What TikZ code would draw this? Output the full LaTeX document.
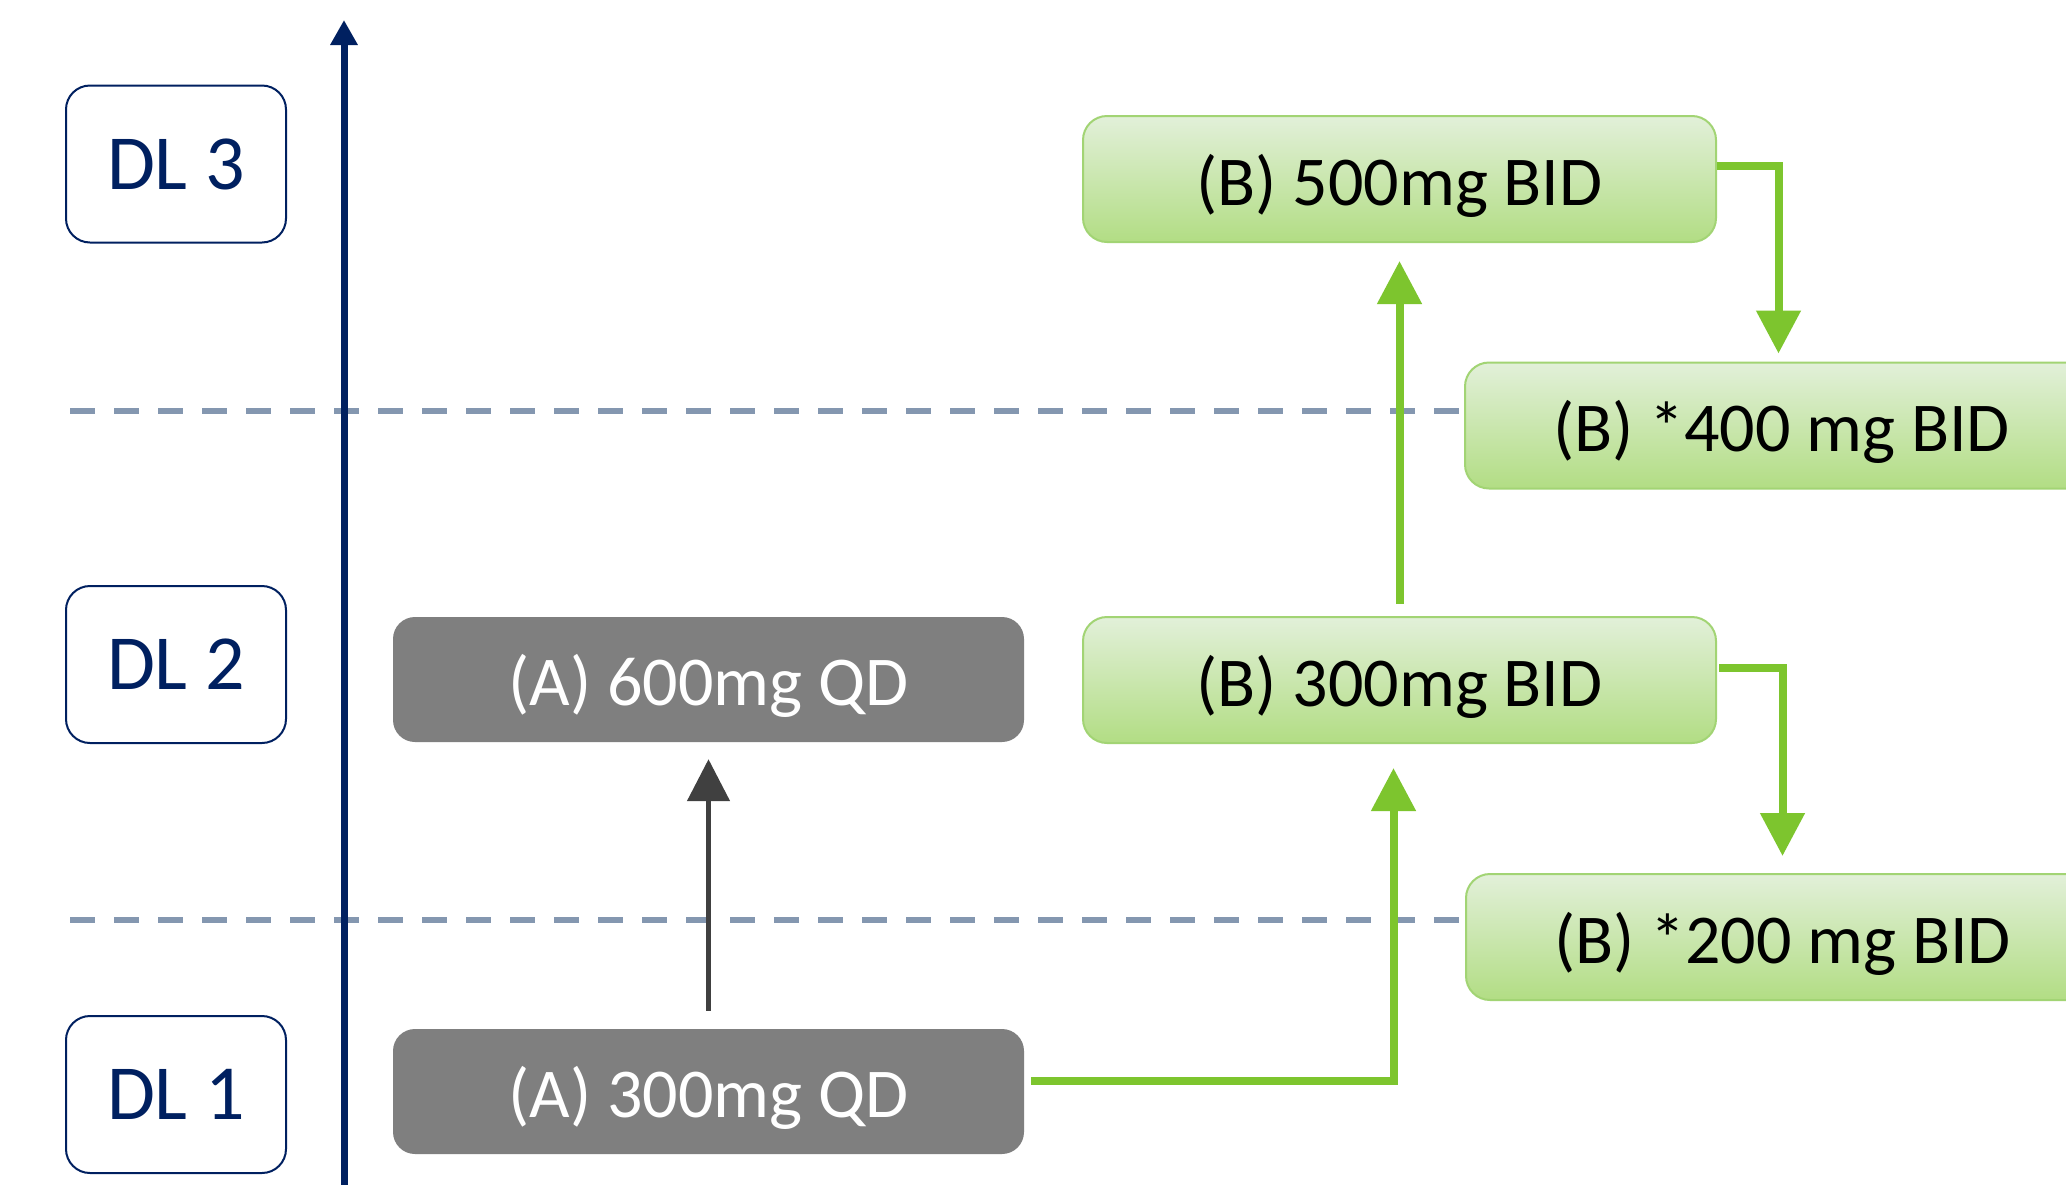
\documentclass[tikz,border=0pt]{standalone}
\usepackage{fontspec}
\setmainfont{Carlito}
\usetikzlibrary{arrows.meta}
\definecolor{navy}{HTML}{002060}
\definecolor{dashc}{HTML}{8497B0}
\definecolor{greenarrow}{HTML}{7DC52E}
\definecolor{greenborder}{HTML}{A2D474}
\definecolor{greentop}{HTML}{E2F0D9}
\definecolor{greenbot}{HTML}{B2DD84}
\definecolor{grayfill}{HTML}{7F7F7F}
\definecolor{grayarrow}{HTML}{404040}
\tikzset{
  dlbox/.style={draw=navy, line width=2pt, rounded corners=24pt, fill=white,
    minimum width=220pt, minimum height=157pt, inner sep=0pt, text=navy,
    font=\fontsize{78}{90}\selectfont},
  abox/.style={fill=grayfill, rounded corners=22pt, minimum width=631pt,
    minimum height=125pt, inner sep=0pt, text=white,
    text height=58pt, text depth=6pt,
    font=\fontsize{70}{84}\selectfont},
  bbox/.style={draw=greenborder, line width=2pt, top color=greentop,
    bottom color=greenbot, rounded corners=24pt, minimum width=633pt,
    minimum height=126pt, inner sep=0pt, text=black,
    text height=58pt, text depth=6pt,
    font=\fontsize{70}{84}\selectfont},
  levelline/.style={draw=dashc, line width=6pt, dash pattern=on 25pt off 19pt},
  garrow/.style={draw=greenarrow, line width=8pt,
    -{Triangle[length=43pt,width=43pt]}},
  grarrow/.style={draw=grayarrow, line width=5pt,
    -{Triangle[length=42pt,width=42pt]}},
  axisarrow/.style={draw=navy, line width=7pt,
    -{Triangle[length=25pt,width=26pt]}}
}
\begin{document}
\begin{tikzpicture}[x=1pt,y=-1pt]
\useasboundingbox (0,0) rectangle (2066,1184);
\clip (0,0) rectangle (2066,1184);
\fill[white] (0,0) rectangle (2066,1184);

% level boxes
\node[dlbox] (dl3) at (176,164) {DL 3};
\node[dlbox] (dl2) at (176,664.5) {DL 2};
\node[dlbox] (dl1) at (176,1094.5) {DL 1};

% right-hand dose boxes
\node[bbox] (b400) at (1781.5,425.5) {(B) *400 mg BID};
\node[bbox] (b200) at (1782.5,937) {(B) *200 mg BID};

% dashed level lines
\coordinate (l1start) at (70,411);
\coordinate (l2start) at (70,920);
\draw[levelline] (l1start) -- (l1start -| b400.west);
\draw[levelline] (l2start) -- (l2start -| b200.west);

% axis
\coordinate (axbot) at (344,1195);
\coordinate (axtop) at (344,20);
\draw[axisarrow] (axbot) -- (axtop);

\node[abox] (a600) at (708.5,679.5) {(A) 600mg QD};
\node[abox] (a300) at (708.5,1091.5) {(A) 300mg QD};
\node[bbox] (b500) at (1399.5,179) {(B) 500mg BID};
\node[bbox] (b300) at (1399.5,680) {(B) 300mg BID};

% connectors
\draw[grarrow] ([yshift=18pt]a300.north) -- ([yshift=-17pt]a600.south);
\draw[garrow] ([xshift=7pt,yshift=11pt]a300.east) -| ([xshift=-6pt,yshift=-24pt]b300.south);
\draw[garrow] ([yshift=12pt]b300.north) -- ([yshift=-18pt]b500.south);
\draw[garrow] ([yshift=13pt]b500.east) -| ([xshift=-3pt,yshift=8pt]b400.north);
\draw[garrow] ([xshift=2pt,yshift=12pt]b300.east) -| ([yshift=17pt]b200.north);
\end{tikzpicture}
\end{document}
